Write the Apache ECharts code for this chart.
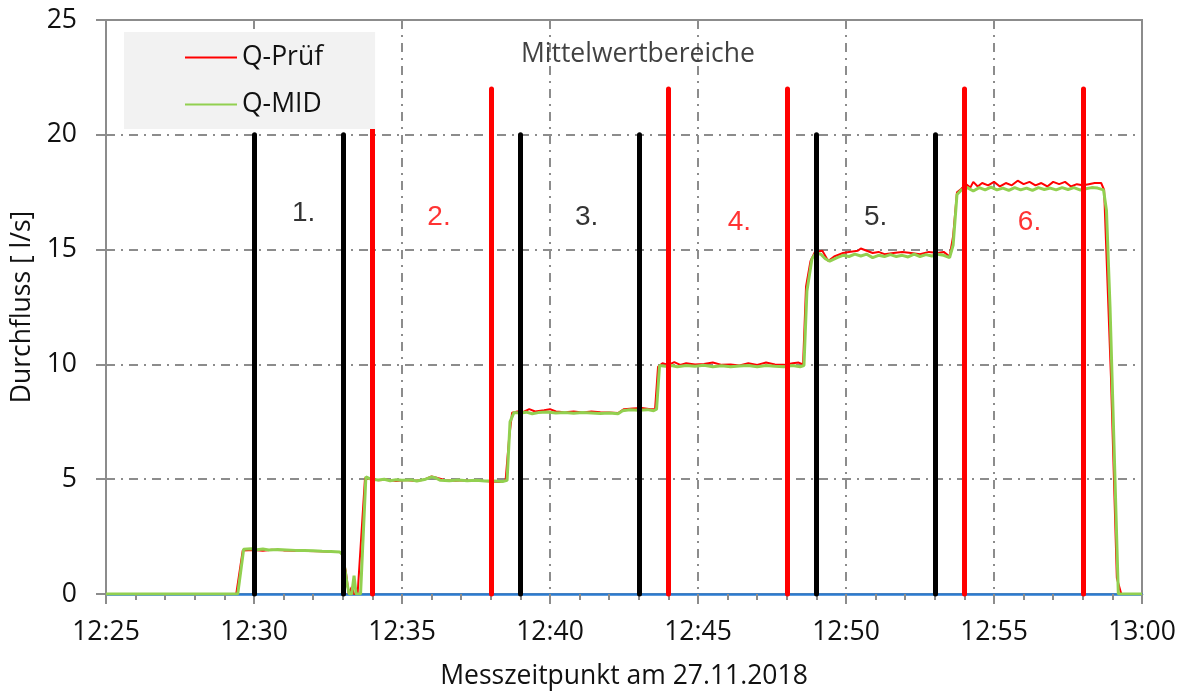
<!DOCTYPE html>
<html><head><meta charset="utf-8">
<script src="https://cdn.jsdelivr.net/npm/echarts@6/dist/echarts.min.js"></script>
<style>html,body{margin:0;padding:0;background:#fff}#c{width:1187px;height:692px}</style>
</head><body><div id="c"></div>
<script>
// minutes after 12:25
var xTickLabels = ['12:25','12:30','12:35','12:40','12:45','12:50','12:55','13:00'];
var yTicks = [0,5,10,15,20,25];

var qPruef = [
[0,0],[4.40,0],[4.62,1.90],[5.0,1.92],[5.3,1.88],[5.6,1.93],[6.0,1.90],[6.4,1.88],[6.8,1.87],[7.2,1.86],[7.6,1.84],[7.95,1.83],
[8.10,1.0],[8.20,0],[8.30,0.3],[8.38,0],[8.50,0],[8.75,5.05],[9.0,5.0],[9.2,4.95],[9.5,4.98],[9.8,4.92],[10.1,4.96],[10.4,4.93],
[10.7,4.96],[11.0,5.12],[11.2,5.05],[11.5,4.95],[11.8,4.93],[12.1,4.95],[12.4,4.92],[12.7,4.93],[13.0,4.90],[13.3,4.88],[13.5,4.95],
[13.62,6.8],[13.72,7.9],[13.9,7.95],[14.1,7.93],[14.3,8.05],[14.5,7.95],[14.8,8.0],[15.0,8.05],[15.2,7.95],[15.5,7.92],[15.8,7.95],
[16.1,7.9],[16.4,7.95],[16.7,7.92],[17.0,7.9],[17.3,7.88],[17.5,8.05],[17.8,8.08],[18.1,8.1],[18.4,8.05],[18.55,8.05],
[18.65,9.9],[18.8,10.05],[19.0,9.98],[19.2,10.1],[19.4,9.98],[19.6,10.05],[19.9,10.0],[20.2,10.02],[20.5,10.08],[20.8,9.98],
[21.1,10.0],[21.4,9.95],[21.7,10.05],[22.0,9.98],[22.3,10.08],[22.6,10.0],[22.9,9.98],[23.2,10.05],[23.4,10.08],[23.55,10.0],
[23.65,13.4],[23.8,14.5],[23.95,14.9],[24.2,14.95],[24.4,14.5],[24.6,14.7],[24.9,14.85],[25.1,14.9],[25.4,14.95],[25.5,15.05],
[25.7,14.95],[25.9,14.85],[26.1,14.9],[26.3,14.8],[26.6,14.85],[26.9,14.9],[27.2,14.85],[27.5,14.8],[27.8,14.9],[28.1,14.85],
[28.3,14.9],[28.5,14.7],[28.62,15.6],[28.75,17.5],[28.9,17.65],[29.05,17.85],[29.2,17.7],[29.3,17.95],[29.45,17.75],[29.6,17.9],
[29.8,17.8],[30.0,17.95],[30.2,17.75],[30.4,17.9],[30.6,17.8],[30.8,18.0],[31.0,17.85],[31.2,17.95],[31.4,17.8],[31.6,17.9],
[31.8,17.75],[32.0,17.95],[32.2,17.85],[32.4,17.95],[32.6,17.75],[32.8,17.85],[33.0,17.8],[33.2,17.85],[33.4,17.9],[33.62,17.9],
[33.72,17.6],[33.95,9.5],[34.15,0.7],[34.3,0],[35,0]
];

var qMID = [
[0,0],[4.45,0],[4.65,1.95],[4.9,1.97],[5.1,1.93],[5.3,1.96],[5.5,1.92],[5.8,1.94],[6.1,1.92],[6.4,1.9],[6.7,1.89],[7.0,1.88],
[7.3,1.86],[7.6,1.85],[7.9,1.83],[8.0,1.7],[8.15,0.4],[8.22,0],[8.3,0],[8.38,0.8],[8.45,0],[8.6,0],[8.78,5.1],[8.95,5.0],
[9.2,4.97],[9.4,5.0],[9.6,4.93],[9.8,4.98],[10.0,4.95],[10.3,4.97],[10.5,4.92],[10.8,5.0],[11.0,5.1],[11.15,5.05],[11.3,4.95],
[11.6,4.93],[11.9,4.96],[12.2,4.93],[12.5,4.95],[12.8,4.92],[13.1,4.92],[13.4,4.9],[13.55,4.95],[13.65,7.5],[13.78,7.9],
[14.0,7.88],[14.2,7.92],[14.4,7.85],[14.6,7.9],[14.9,7.93],[15.2,7.88],[15.5,7.9],[15.8,7.87],[16.1,7.9],[16.4,7.88],[16.7,7.86],
[17.0,7.88],[17.3,7.85],[17.45,7.98],[17.7,8.02],[18.0,8.0],[18.3,8.03],[18.5,7.98],[18.6,8.05],[18.7,9.95],[18.9,9.92],
[19.1,9.95],[19.3,9.9],[19.6,9.95],[19.9,9.92],[20.2,9.96],[20.5,9.9],[20.8,9.94],[21.1,9.9],[21.4,9.93],[21.7,9.95],[22.0,9.9],
[22.3,9.95],[22.6,9.92],[22.9,9.9],[23.2,9.95],[23.45,9.9],[23.58,9.95],[23.68,13.2],[23.85,14.6],[23.98,14.85],[24.15,14.8],
[24.3,14.6],[24.45,14.5],[24.7,14.65],[24.9,14.75],[25.1,14.7],[25.3,14.8],[25.5,14.72],[25.7,14.8],[25.9,14.65],[26.1,14.75],
[26.3,14.7],[26.5,14.78],[26.7,14.7],[26.9,14.75],[27.1,14.68],[27.3,14.8],[27.5,14.7],[27.7,14.78],[27.9,14.72],[28.1,14.8],
[28.3,14.75],[28.5,14.65],[28.62,15.2],[28.75,17.4],[28.9,17.6],[29.1,17.7],[29.3,17.55],[29.5,17.7],[29.7,17.6],[29.9,17.72],
[30.1,17.6],[30.3,17.68],[30.5,17.58],[30.7,17.7],[30.9,17.6],[31.1,17.68],[31.3,17.58],[31.5,17.7],[31.7,17.62],[31.9,17.68],
[32.1,17.6],[32.3,17.7],[32.5,17.62],[32.7,17.7],[32.9,17.6],[33.1,17.65],[33.3,17.7],[33.5,17.68],[33.7,17.6],[33.8,16.7],
[33.92,12.5],[34.2,0],[35,0]
];

var blackBarTimes = [5, 8, 14, 18, 24, 28];
var blackBarTop = 20;
var redBarTimes = [9, 13, 19, 23, 29, 33];
var redBarTop = 22;

var rangeNames = ['1.','2.','3.','4.','5.','6.'];
var rangeX = [6.68, 11.25, 16.24, 21.4, 26.0, 31.2];
var rangeY = [16.6, 16.4, 16.4, 16.2, 16.4, 16.2];
var rangeColors = ['#000000','#ff0000','#000000','#ff0000','#000000','#ff0000'];
var titleText = 'Mittelwertbereiche';
var titlePos = [17.97, 23.5];

var FS = 26.5;
var TXT = '#111111';
var gray = '#8c8c8c';
var dashDot = [9, 6, 2, 6];

function bars(times, top, color) {
  return times.map(function (t) {
    return [{coord: [t, 0], lineStyle: {color: color}}, {coord: [t, top]}];
  });
}

var labelData = rangeNames.map(function (n, i) {
  return {value: [rangeX[i], rangeY[i]], name: n,
          label: {color: rangeColors[i], fontSize: 28, fontFamily: 'Liberation Sans, Arial, sans-serif'}};
});
labelData.push({value: titlePos, name: titleText,
  label: {color: TXT, fontSize: FS, fontFamily: 'Open Sans'}});

var chart = echarts.init(document.getElementById('c'), null, {renderer: 'canvas'});
chart.setOption({
  animation: false,
  backgroundColor: '#ffffff',
  textStyle: {fontFamily: 'Open Sans'},
  grid: {left: 106, right: 45, top: 20, bottom: 98, containLabel: false, outerBoundsMode: 'none',
         show: true, borderColor: gray, borderWidth: 2, backgroundColor: 'transparent'},
  legend: {
    z: 20,
    left: 124, top: 32, orient: 'vertical',
    backgroundColor: '#f2f2f2', borderRadius: 0,
    padding: [12, 52, 11, 61],
    itemWidth: 52, itemHeight: 2, itemGap: 20, icon: 'rect',
    textStyle: {fontSize: FS, color: TXT, fontFamily: 'Open Sans', lineHeight: 26},
    data: ['Q-Prüf', 'Q-MID']
  },
  xAxis: {
    type: 'value', min: 0, max: 35, interval: 5,
    name: 'Messzeitpunkt am 27.11.2018', nameLocation: 'middle', nameGap: 69,
    nameTextStyle: {fontSize: FS, color: TXT, fontFamily: 'Open Sans'},
    axisLine: {show: true, onZero: false, lineStyle: {color: '#2b7bd0', width: 2.5}},
    axisTick: {show: true, length: 10, lineStyle: {color: gray, width: 2}},
    minorTick: {show: true, splitNumber: 5, length: 6, lineStyle: {color: gray, width: 2}},
    axisLabel: {fontSize: FS, color: TXT, margin: 25, fontFamily: 'Open Sans',
      formatter: function (v) { return xTickLabels[Math.round(v / 5)]; }},
    splitLine: {show: true, lineStyle: {color: gray, width: 2, type: dashDot}}
  },
  yAxis: {
    type: 'value', min: 0, max: 25, interval: 5,
    name: 'Durchfluss [ l/s]', nameLocation: 'middle', nameGap: 69,
    nameTextStyle: {fontSize: FS, color: TXT, fontFamily: 'Open Sans'},
    axisLine: {show: true, lineStyle: {color: gray, width: 2}},
    axisTick: {show: true, length: 10, lineStyle: {color: gray, width: 2}},
    axisLabel: {fontSize: FS, color: TXT, margin: 29, fontFamily: 'Open Sans',
      formatter: function (v) { return yTicks.indexOf(v) >= 0 ? String(v) : ''; }},
    splitLine: {show: true, lineStyle: {color: gray, width: 2, type: dashDot}}
  },
  series: [
    {name: 'Q-Prüf', type: 'line', data: qPruef, showSymbol: false, symbol: 'none', z: 2,
     lineStyle: {color: '#ff0000', width: 2}, itemStyle: {color: '#ff0000'}},
    {name: 'Q-MID', type: 'line', data: qMID, showSymbol: false, symbol: 'none', z: 2,
     lineStyle: {color: '#92d050', width: 3}, itemStyle: {color: '#92d050'}},
    {name: 'bars', type: 'line', data: [], z: 3, silent: true,
     markLine: {silent: true, symbol: ['none', 'none'], label: {show: false}, animation: false,
       lineStyle: {width: 5, type: 'solid', cap: 'round'},
       data: bars(blackBarTimes, blackBarTop, '#000000').concat(bars(redBarTimes, redBarTop, '#ff0000'))}},
    {name: 'labels', type: 'scatter', data: labelData, symbolSize: 0, z: 3, silent: true,
     label: {show: true, position: 'inside', formatter: function (p) { return p.name; }}}
  ]
});
</script></body></html>
